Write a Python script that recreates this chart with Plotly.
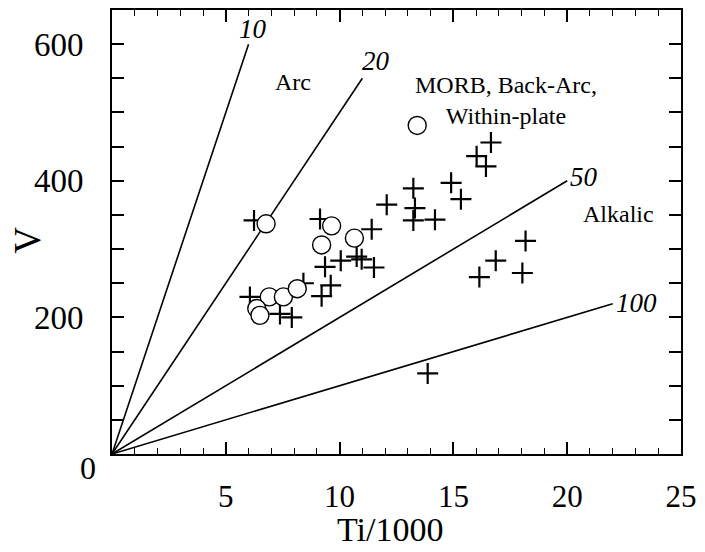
import plotly.graph_objects as go

# ---- data (Ti/1000, V) ----
plus_ti = [6.24, 9.14, 11.41, 12.07, 13.24, 13.31, 13.24, 14.19, 9.36, 10.05, 10.75, 10.97,
           11.51, 9.61, 9.21, 8.41, 6.06, 7.38, 7.90, 16.65, 16.02, 16.43, 14.90, 15.33,
           18.17, 16.86, 16.14, 18.03, 13.87]
plus_v = [342, 344, 329, 365, 389, 360, 342, 343, 274, 283, 289, 285,
          273, 247, 231, 250, 230, 205, 200, 456, 436, 421, 397, 373,
          312, 283, 259, 265, 118]

circ_ti = [6.77, 9.65, 10.65, 9.21, 13.41, 6.91, 7.53, 8.14, 6.36, 6.50]
circ_v = [337, 334, 316, 306, 481, 230, 230, 242, 213, 203]

# Ti/V ratio lines and where each ends (Ti/1000)
ratios = [10, 20, 50, 100]
ratio_end_ti = [6.0, 11.0, 20.0, 22.0]
ratio_labels = ["10", "20", "50", "100"]
ratio_label_ti = [6.2, 11.6, 20.75, 23.05]
ratio_label_v = [622, 575, 406, 221]

region_labels = ["Arc", "MORB, Back-Arc,<br>Within-plate", "Alkalic"]
region_ti = [7.97, 17.3, 22.25]
region_v = [544, 518, 352]

x_tick_vals = [5, 10, 15, 20, 25]
x_tick_text = ["5", "10", "15", "20", "25"]
y_tick_vals = [0, 50, 100, 150, 200, 250, 300, 350, 400, 450, 500, 550, 600, 650]
y_tick_text = ["", "", "", "", "200", "", "", "", "400", "", "", "", "600", ""]

x_title = "Ti/1000"
y_title = "V"

FONT = "Liberation Serif, Times New Roman, serif"

fig = go.Figure()

for r, xe in zip(ratios, ratio_end_ti):
    fig.add_trace(go.Scatter(x=[0, xe], y=[0, 1000 * xe / r], mode="lines",
                             line=dict(color="black", width=1.6),
                             showlegend=False, hoverinfo="skip"))

fig.add_trace(go.Scatter(x=plus_ti, y=plus_v, mode="markers",
                         marker=dict(symbol="cross-thin", size=15,
                                     line=dict(color="black", width=2.2)),
                         showlegend=False))
fig.add_trace(go.Scatter(x=circ_ti, y=circ_v, mode="markers",
                         marker=dict(symbol="circle", size=18, color="white",
                                     line=dict(color="black", width=1.4)),
                         showlegend=False))

for t, xv, yv in zip(ratio_labels, ratio_label_ti, ratio_label_v):
    fig.add_annotation(x=xv, y=yv, text="<i>" + t + "</i>", showarrow=False,
                       font=dict(family=FONT, size=27, color="black"))

for t, xv, yv in zip(region_labels, region_ti, region_v):
    fig.add_annotation(x=xv, y=yv, text=t, showarrow=False, align="center",
                       font=dict(family=FONT, size=24, color="black"))

# "0" corner label
fig.add_annotation(x=0, y=0, xref="x", yref="y", text="0", showarrow=False,
                   xshift=-24, yshift=-14, font=dict(family=FONT, size=32, color="black"))

# axis titles
fig.add_annotation(x=0.489, y=-0.170, xref="paper", yref="paper", text=x_title,
                   xanchor="center", yanchor="middle",
                   showarrow=False, font=dict(family=FONT, size=34, color="black"))
fig.add_annotation(x=-0.148, y=0.482, xref="paper", yref="paper", text=y_title,
                   xanchor="center", yanchor="middle",
                   textangle=-90, showarrow=False, font=dict(family=FONT, size=37, color="black"))

fig.update_layout(
    width=705, height=552,
    margin=dict(l=112, r=24, t=10, b=98, autoexpand=False),
    paper_bgcolor="white", plot_bgcolor="white",
    font=dict(family=FONT, color="black"),
    xaxis=dict(range=[0, 25], tickmode="array", tickvals=x_tick_vals, ticktext=x_tick_text,
               ticks="inside", ticklen=12, tickwidth=1.6, tickcolor="black",
               minor=dict(dtick=1, ticks="inside", ticklen=6, tickwidth=1.4, tickcolor="black"),
               showline=True, linewidth=2, linecolor="black", mirror="allticks",
               showgrid=False, zeroline=False, ticklabelstandoff=14, automargin=False,
               tickfont=dict(family=FONT, size=31)),
    yaxis=dict(range=[0, 650], tickmode="array", tickvals=y_tick_vals, ticktext=y_tick_text,
               ticks="inside", ticklen=12, tickwidth=1.6, tickcolor="black",
               showline=True, linewidth=2, linecolor="black", mirror="allticks",
               showgrid=False, zeroline=False, ticklabelstandoff=20, automargin=False,
               tickfont=dict(family=FONT, size=33)),
)

fig.write_html("out.html")
